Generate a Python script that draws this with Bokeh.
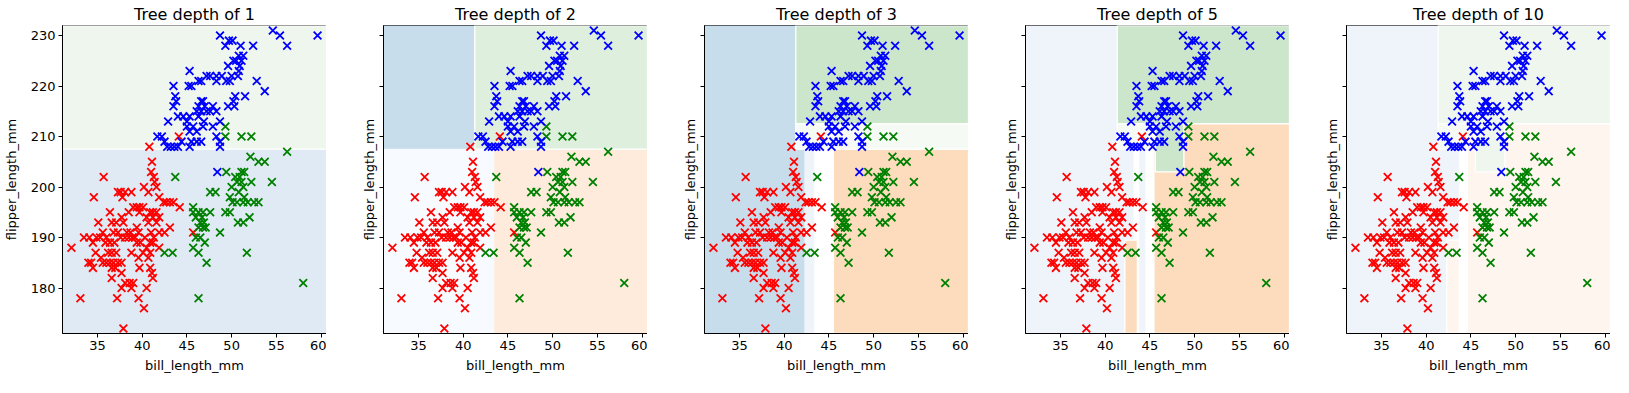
from bokeh.plotting import figure
from bokeh.layouts import row
from bokeh.models import Range1d, FixedTicker, ColumnDataSource
from bokeh.embed import file_html
from bokeh.resources import INLINE

# ---------------- data ----------------
depths = [1, 2, 3, 5, 10]
x_ticks = [35, 40, 45, 50, 55, 60]
y_ticks = [180, 190, 200, 210, 220, 230]
x_lim = [31.1, 60.6]
y_lim = [171, 232]

adelie_bill = [44.1, 40.8, 41.1, 41.0, 41.3, 35.7, 41.4, 41.6, 40.2, 40.7, 37.3, 37.6, 37.8, 38.1, 38.8,
               34.6, 41.9, 42.4, 42.7, 43.1, 43.5, 44.2, 39.0, 39.4, 39.7, 40.1, 40.9, 41.2, 41.6, 38.5,
               36.4, 39.7, 37.7, 36.6, 37.1, 37.9, 35.1, 40.5, 41.2, 41.9, 40.7, 41.6, 43.1, 45.7, 42.5,
               41.9, 41.0, 41.3, 38.3, 38.7, 38.1, 38.9, 39.2, 38.5, 39.4, 36.8, 37.3, 35.6, 36.0, 34.9,
               35.3, 34.1, 33.5, 32.1, 34.5, 36.4, 36.9, 39.4, 39.8, 40.9, 41.2, 40.5, 41.9, 34.8, 36.6,
               37.1, 38.8, 40.1, 40.9, 34.0, 34.3, 34.5, 35.4, 35.6, 36.0, 36.4, 36.8, 37.0, 37.3, 36.6,
               37.7, 39.6, 40.7, 39.7, 40.9, 41.1, 41.2, 36.6, 37.7, 38.1, 38.6, 39.0, 37.7, 40.5, 33.1,
               37.2, 39.6, 40.2, 37.9, 38.8, 39.6, 40.3, 37.6, 36.2, 35.9]
adelie_flipper = [210, 208, 205, 203, 202, 202, 201, 200, 200, 199, 199, 199, 198, 199, 199,
                  198, 198, 197, 197, 197, 197, 196, 196, 196, 196, 196, 195, 195, 195, 195,
                  195, 195, 194, 193, 193, 193, 193, 194, 194, 194, 193, 193, 192, 191, 191,
                  191, 191, 190, 191, 191, 190, 190, 190, 190, 192, 191, 191, 191, 190, 190,
                  190, 190, 190, 188, 189, 189, 189, 189, 189, 189, 189, 188, 188, 187, 187,
                  187, 187, 187, 187, 185, 185, 184, 186, 185, 185, 185, 185, 184, 185, 184,
                  185, 186, 186, 184, 184, 183, 182, 182, 183, 181, 181, 181, 180, 180, 178,
                  178, 178, 176, 172, 180, 191, 190, 190, 187, 189]

gentoo_bill = [48.7, 49.3, 49.7, 50.1, 51.0, 52.4, 54.6, 55.4, 56.2, 59.6,
               49.6, 50.2, 50.5, 50.8, 51.1, 51.3, 50.9, 50.8, 50.7, 45.3,
               43.5, 45.2, 45.5, 46.3, 46.6, 47.2, 47.6, 48.3, 48.9, 48.3,
               49.4, 49.8, 52.8, 53.7, 51.5, 50.4, 50.2, 43.7, 43.8, 43.5,
               42.9, 44.6, 45.0, 45.3, 46.1, 46.3, 46.6, 46.8, 46.6, 47.2,
               47.6, 47.9, 48.3, 48.7, 47.9, 46.8, 46.1, 45.7, 45.3, 45.0,
               44.0, 46.3, 41.7, 42.2, 42.5, 42.8, 43.2, 43.6, 44.0, 44.4,
               45.3, 45.5, 46.1, 46.6, 48.3, 48.7, 48.7, 48.4, 49.6, 50.3,
               50.0, 47.0, 46.9]
gentoo_flipper = [230, 228, 229, 229, 228, 228, 231, 230, 228, 230,
                  224, 225, 225, 226, 225, 226, 224, 223, 222, 223,
                  220, 220, 220, 221, 221, 222, 222, 222, 222, 221,
                  221, 221, 221, 219, 218, 218, 217, 218, 217, 216,
                  213, 214, 213, 214, 215, 214, 215, 217, 217, 215,
                  215, 216, 215, 213, 212, 212, 211, 212, 211, 212,
                  214, 216, 210, 210, 209, 208, 208, 208, 208, 209,
                  208, 209, 209, 209, 210, 209, 208, 203, 216, 216,
                  222, 216, 213]

chinstrap_bill = [49.3, 49.3, 51.1, 52.2, 56.2, 52.1, 53.0, 53.7, 49.4, 51.1, 51.4, 50.9,
                  43.7, 50.4, 50.6, 51.1, 51.3, 52.2, 54.5, 47.6, 48.2, 50.0, 50.8, 51.4,
                  49.8, 50.1, 50.6, 51.3, 51.8, 52.5, 53.0, 45.7, 46.3, 46.8, 47.6, 45.7,
                  46.0, 46.7, 46.9, 47.1, 46.5, 49.3, 49.8, 50.7, 51.3, 52.0, 48.7, 46.3,
                  46.5, 46.8, 45.7, 46.0, 42.5, 43.4, 46.3, 47.0, 47.2, 51.7, 46.3, 58.0]
chinstrap_flipper = [212, 210, 210, 210, 207, 206, 205, 205, 203, 203, 203, 202,
                     202, 202, 201, 201, 200, 201, 201, 199, 199, 200, 199, 198,
                     198, 197, 197, 197, 197, 197, 197, 196, 195, 195, 195, 195,
                     194, 194, 193, 192, 193, 195, 195, 193, 193, 194, 191, 192,
                     190, 192, 188, 190, 187, 187, 187, 189, 185, 187, 178, 181]

# decision regions of each tree (drawn in order): left, right, bottom, top, predicted class, shade level
regions = {
    1: dict(left=[31.1, 31.1], right=[60.6, 60.6], bottom=[171, 207.5], top=[207.5, 232],
            cls=["Adelie", "Gentoo"], level=[2, 1]),
    2: dict(left=[31.1, 31.1, 43.5, 41.3], right=[41.3, 43.5, 60.6, 60.6],
            bottom=[207.5, 171, 171, 207.5], top=[232, 207.5, 207.5, 232],
            cls=["Adelie", "Adelie", "Chinstrap", "Gentoo"], level=[3, 0, 1, 2]),
    3: dict(left=[31.1, 31.1, 42.3, 43.4, 45.5, 41.3, 41.3],
            right=[41.3, 42.3, 43.4, 45.5, 60.6, 60.6, 60.6],
            bottom=[171, 171, 171, 171, 171, 212.5, 207.5],
            top=[232, 207.5, 207.5, 207.5, 207.5, 232, 212.5],
            cls=["Adelie", "Adelie", "Adelie", "None", "Chinstrap", "Gentoo", "Gentoo"],
            level=[3, 3, 1, 0, 2, 3, 0]),
    5: dict(left=[31.1, 43.2, 44.5, 41.35, 41.35, 45.45, 45.6, 42.2],
            right=[60.6, 43.8, 45.45, 60.6, 45.6, 60.6, 48.8, 43.6],
            bottom=[171, 171, 171, 212.5, 207.5, 171, 203, 171],
            top=[232, 207.5, 207.5, 232, 212.5, 212.5, 212.5, 189.5],
            cls=["Adelie", "None", "None", "Gentoo", "Gentoo", "Chinstrap", "Gentoo", "Chinstrap"],
            level=[1, 0, 0, 3, 0, 2, 3, 2]),
    10: dict(left=[31.1, 43.7, 41.35, 41.35, 44.6, 45.5, 42.3],
             right=[60.6, 44.6, 60.6, 45.5, 60.6, 48.8, 43.7],
             bottom=[171, 171, 212.5, 207.5, 171, 203, 171],
             top=[232, 207.5, 232, 212.5, 212.5, 212.5, 189.5],
             cls=["Adelie", "None", "Gentoo", "Gentoo", "Chinstrap", "Gentoo", "Chinstrap"],
             level=[1, 0, 1, 0, 0, 1, 0]),
}

# ---------------- style ----------------
SHADES = {
    "Adelie": ["#F7FBFF", "#EEF4FA", "#E0EAF4", "#C8DDEC"],
    "Gentoo": ["#F5FAF4", "#EFF6EE", "#DEEFDD", "#CCE6CC"],
    "Chinstrap": ["#FEF5EE", "#FEEBDC", "#FDDCBE"],
    "None": ["#FFFFFF"],
}
# which region patches get the white contour gap around them
EDGED = {
    1: [False, True],
    2: [False, False, False, True],
    3: [False, False, False, False, True, True, True],
    5: [False, False, False, True, True, True, True, True],
    10: [False, False, True, True, True, True, True],
}
POINT_COLORS = {"Adelie": "red", "Chinstrap": "green", "Gentoo": "blue"}
FONT = "DejaVu Sans"

FRAME_W, FRAME_H = 264, 308


def make_panel(i, depth):
    first = i == 0
    p = figure(width=(58 if first else 57) + FRAME_W, height=24 + FRAME_H + 45,
               frame_width=FRAME_W, frame_height=FRAME_H,
               x_range=Range1d(*x_lim), y_range=Range1d(*y_lim),
               output_backend="svg", toolbar_location=None,
               min_border_left=58 if first else 57, min_border_right=0,
               min_border_top=24, min_border_bottom=45,
               title="Tree depth of %d" % depth)
    p.background_fill_color = "white"
    p.border_fill_color = "white"
    p.grid.visible = False
    p.outline_line_color = "black"
    p.outline_line_width = 1

    r = regions[depth]
    colors = [SHADES[c][lv] for c, lv in zip(r["cls"], r["level"])]
    edges = ["white" if e else c for e, c in zip(EDGED[depth], colors)]
    widths = [1.3 if e else 0.5 for e in EDGED[depth]]
    src = ColumnDataSource(dict(left=r["left"], right=r["right"], bottom=r["bottom"], top=r["top"],
                                color=colors, edge=edges, lw=widths))
    p.quad(left="left", right="right", bottom="bottom", top="top", source=src,
           fill_color="color", line_color="edge", line_width="lw")

    for name, xs, ys in [("Adelie", adelie_bill, adelie_flipper),
                         ("Chinstrap", chinstrap_bill, chinstrap_flipper),
                         ("Gentoo", gentoo_bill, gentoo_flipper)]:
        p.scatter(xs, ys, marker="x", size=11, line_color=POINT_COLORS[name], line_width=1.8)

    p.title.align = "center"
    p.title.text_font = FONT
    p.title.text_font_size = "16px"
    p.title.text_font_style = "normal"
    p.title.text_color = "black"
    p.title.standoff = 4

    for ax in (p.xaxis[0], p.yaxis[0]):
        ax.major_tick_out = 4
        ax.major_tick_in = 0
        ax.minor_tick_line_color = None
        ax.axis_line_color = "black"
        ax.major_tick_line_color = "black"
        ax.major_label_text_font = FONT
        ax.major_label_text_font_size = "13px"
        ax.major_label_text_color = "black"
        ax.axis_label_text_font = FONT
        ax.axis_label_text_font_size = "13px"
        ax.axis_label_text_font_style = "normal"
        ax.axis_label_text_color = "black"
        ax.major_label_standoff = 3
    p.xaxis.ticker = FixedTicker(ticks=x_ticks)
    p.yaxis.ticker = FixedTicker(ticks=y_ticks)
    p.xaxis.axis_label = "bill_length_mm"
    p.yaxis.axis_label = "flipper_length_mm"
    p.xaxis.axis_label_standoff = 5
    if first:
        p.yaxis.axis_label_standoff = 9
    else:
        p.yaxis.major_label_overrides = {t: "" for t in y_ticks}
        p.yaxis.major_label_standoff = 0
        p.yaxis.axis_label_standoff = 3
    return p


panels = [make_panel(i, d) for i, d in enumerate(depths)]
layout = row(*panels, spacing=0)
open("out.html", "w").write(file_html(layout, INLINE))
